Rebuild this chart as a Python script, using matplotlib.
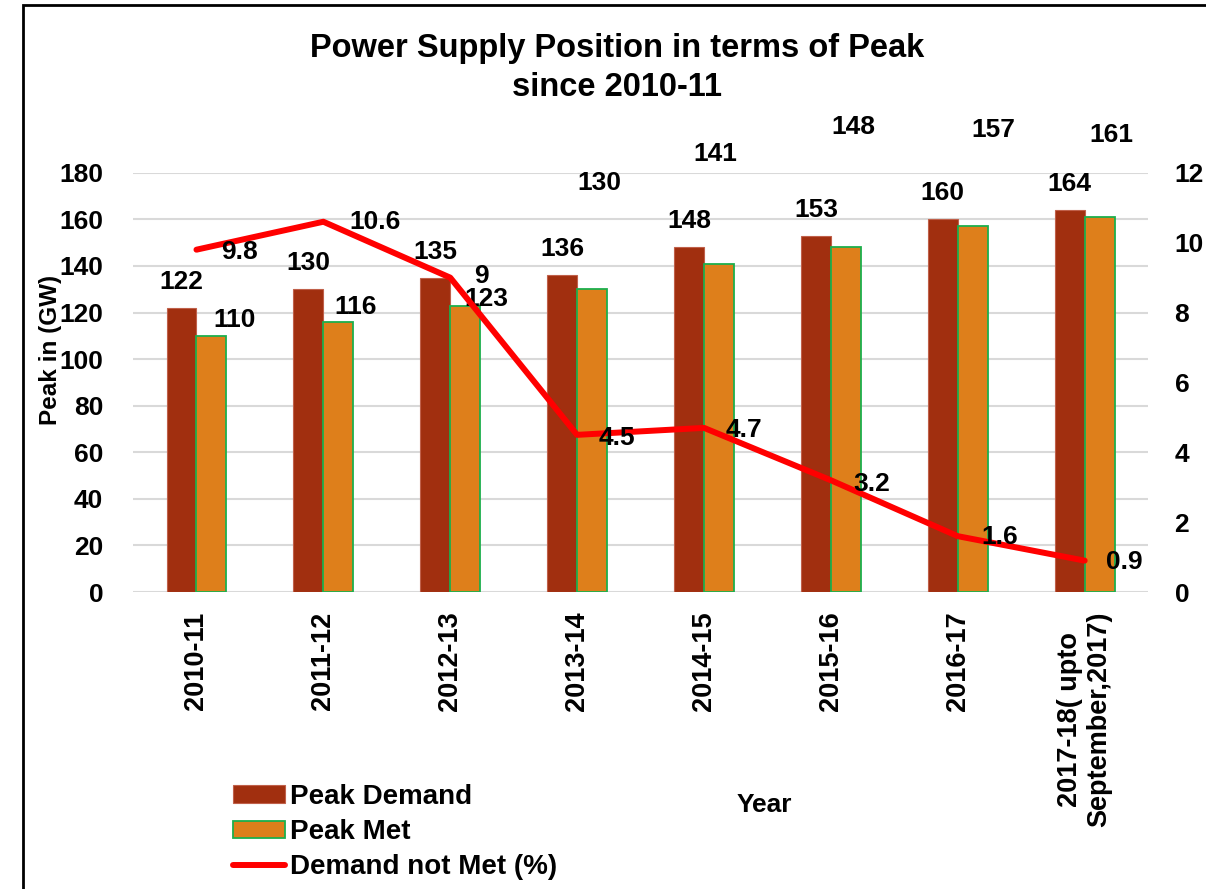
import matplotlib
matplotlib.use("Agg")
import matplotlib.pyplot as plt
from matplotlib.patches import Rectangle
import numpy as np

plt.rcParams['font.family'] = ['Liberation Sans', 'DejaVu Sans']
plt.rcParams['font.weight'] = 'bold'

years = ['2010-11', '2011-12', '2012-13', '2013-14', '2014-15', '2015-16', '2016-17',
         '2017-18( upto\nSeptember,2017)']
peak_demand = [122, 130, 135, 136, 148, 153, 160, 164]
peak_met = [110, 116, 123, 130, 141, 148, 157, 161]
not_met_pct = [9.8, 10.6, 9, 4.5, 4.7, 3.2, 1.6, 0.9]

# label offsets (pixels) relative to the data point
demand_off = [(0, 26)] * 8
met_off = [(23, 16), (17, 15), (21, 7), (7, 106), (-4, 110), (8, 120), (21, 96), (12, 82)]
pct_off = [(25, -2), (26, 0), (24, 2), (22, -3), (22, -2), (22, -4), (24, -1), (21, -1)]

PX = 72 / 100  # pixels -> points at dpi 100

DEMAND_C = '#A12F0F'
MET_C = '#DE7F1B'
MET_EDGE = '#1DAF4C'
LINE_C = '#FF0000'
FS = 19

fig = plt.figure(figsize=(12.06, 8.89), dpi=100)
ax = fig.add_axes([0.1103, 0.334, 0.8417, 0.4716])
x = np.arange(len(years))
w = 0.236
b1 = ax.bar(x - w / 2, peak_demand, w, color=DEMAND_C, edgecolor='#C0604A', linewidth=0.8,
            label='Peak Demand', zorder=2)
b2 = ax.bar(x + w / 2, peak_met, w, color=MET_C, edgecolor=MET_EDGE, linewidth=1.3,
            label='Peak Met', zorder=2)
ax.set_xlim(-0.5, len(years) - 0.5)
ax.set_ylim(0, 180)
ax.set_yticks(range(0, 181, 20))
ax.yaxis.grid(True, color='#D9D9D9', linewidth=1.5, zorder=0)
ax.set_axisbelow(True)
for s in ax.spines.values():
    s.set_visible(False)
ax.tick_params(axis='both', length=0, labelsize=FS)
ax.tick_params(axis='y', pad=21.5)
ax.set_xticks(x)
ax.set_xticklabels(years, rotation=90, fontsize=FS + 0.5, fontweight='bold', multialignment='center')
ax.tick_params(axis='x', pad=14)

ax2 = ax.twinx()
ln, = ax2.plot(x, not_met_pct, color=LINE_C, linewidth=4.3, solid_capstyle='round',
               solid_joinstyle='round', label='Demand not Met (%)', zorder=3)
ax2.set_ylim(0, 12)
ax2.set_yticks(range(0, 13, 2))
for s in ax2.spines.values():
    s.set_visible(False)
ax2.tick_params(axis='y', length=0, labelsize=FS, pad=19)

for i in range(len(years)):
    ax.annotate(str(peak_demand[i]), (x[i] - w / 2, peak_demand[i]),
                xytext=(demand_off[i][0] * PX, demand_off[i][1] * PX),
                textcoords='offset points', ha='center', va='center', fontsize=FS, fontweight='bold')
    ax.annotate(str(peak_met[i]), (x[i] + w / 2, peak_met[i]),
                xytext=(met_off[i][0] * PX, met_off[i][1] * PX),
                textcoords='offset points', ha='center', va='center', fontsize=FS, fontweight='bold')
    ax2.annotate(f"{not_met_pct[i]:g}", (x[i], not_met_pct[i]),
                 xytext=(pct_off[i][0] * PX, pct_off[i][1] * PX),
                 textcoords='offset points', ha='left', va='center', fontsize=FS, fontweight='bold',
                 zorder=5)

fig.text(0.512, 1 - 68 / 889, 'Power Supply Position in terms of Peak\nsince 2010-11', ha='center',
         va='center', fontsize=23.5, fontweight='bold', linespacing=1.32)
fig.text(51 / 1206, 1 - 350 / 889, 'Peak in (GW)', rotation=90, ha='center', va='center',
         fontsize=17.5, fontweight='bold')
fig.text(0.634, 1 - 805 / 889, 'Year', ha='center', va='center', fontsize=FS, fontweight='bold')

fig.legend(handles=[b1, b2, ln], loc='upper left', bbox_to_anchor=(233 / 1206, 1 - 784 / 889),
           frameon=False, fontsize=20, handlelength=1.87, handleheight=0.6, handletextpad=0.2,
           labelspacing=0.33, borderaxespad=0, borderpad=0)

fig.patches.append(Rectangle((23 / 1206, -0.02), 1.1, 0.9944 + 0.02, transform=fig.transFigure,
                             fill=False, edgecolor='black', linewidth=2, figure=fig))

fig.savefig('out.png', dpi=100)
